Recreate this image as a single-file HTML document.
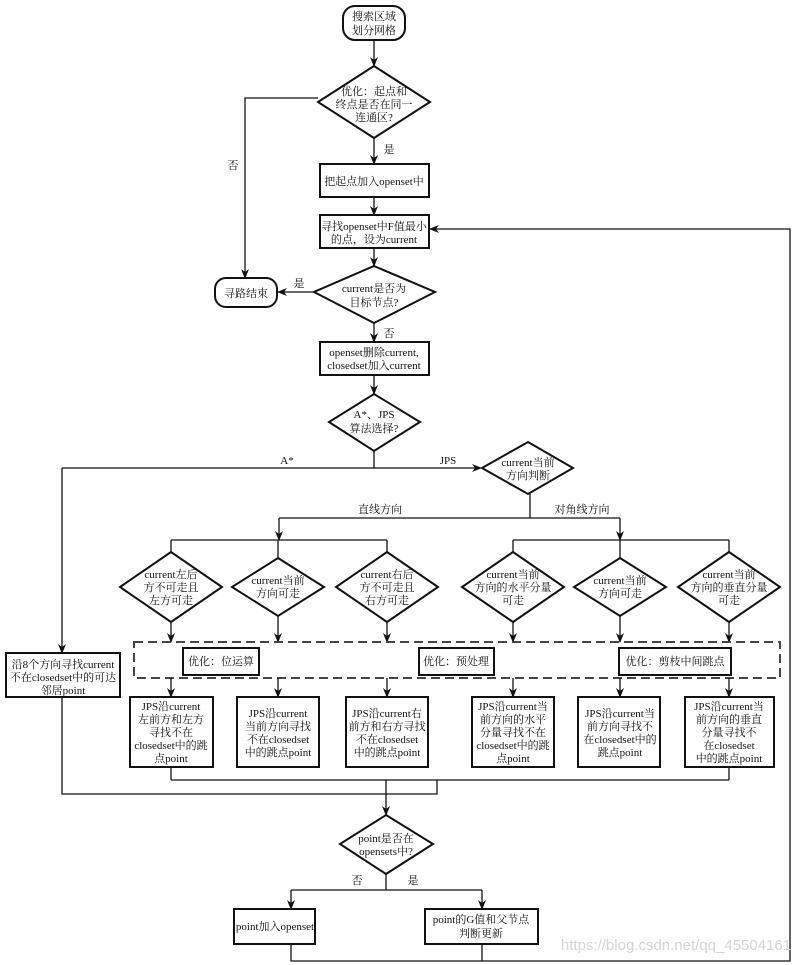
<!DOCTYPE html>
<html><head><meta charset="utf-8"><style>
html,body{margin:0;padding:0;background:#fff;}
svg{display:block;}
text{font-family:"Liberation Serif","Noto Serif CJK SC","Noto Sans CJK SC",serif;font-size:11px;fill:#111;text-anchor:middle;}
</style></head><body>
<svg width="800" height="965" viewBox="0 0 800 965" xmlns="http://www.w3.org/2000/svg">
<defs><marker id="a" markerWidth="10" markerHeight="8" refX="9" refY="4" orient="auto" markerUnits="userSpaceOnUse"><path d="M0,0 L10,4 L0,8 L3,4 z" fill="#111"/></marker></defs>
<g fill="none" stroke="#111" stroke-width="1.3">
<!-- start -->
<rect x="343" y="6" width="62" height="34" rx="12" stroke-width="2"/>
<line x1="374" y1="40" x2="374" y2="66" marker-end="url(#a)"/>
<polygon points="374,66 430,102 374,138 318,102" stroke-width="2"/>
<line x1="374" y1="138" x2="374" y2="164" marker-end="url(#a)"/>
<rect x="320" y="164" width="109" height="33" stroke-width="2"/>
<line x1="374" y1="197" x2="374" y2="215" marker-end="url(#a)"/>
<rect x="320" y="215" width="109" height="33" stroke-width="2"/>
<line x1="374" y1="248" x2="374" y2="266" marker-end="url(#a)"/>
<polygon points="374,266 435,292 374,323 314,292" stroke-width="2"/>
<rect x="215" y="278" width="62" height="29" rx="11" stroke-width="2"/>
<line x1="314" y1="292" x2="278" y2="292" marker-end="url(#a)"/>
<polyline points="318,98 245,98 245,278" marker-end="url(#a)"/>
<line x1="374" y1="323" x2="374" y2="342" marker-end="url(#a)"/>
<rect x="320" y="342" width="109" height="33" stroke-width="2"/>
<line x1="374" y1="375" x2="374" y2="394" marker-end="url(#a)"/>
<polygon points="374,394 420,422 374,451 329,422" stroke-width="2"/>
<line x1="374" y1="451" x2="374" y2="468"/>
<line x1="62" y1="468" x2="481" y2="468" marker-end="url(#a)"/>
<polygon points="528,442 573,468 528,494 482,468" stroke-width="2"/>
<line x1="62" y1="468" x2="62" y2="653" marker-end="url(#a)"/>
<!-- branches -->
<line x1="530" y1="494" x2="530" y2="518"/>
<line x1="279" y1="518" x2="620" y2="518"/>
<line x1="279" y1="518" x2="279" y2="540" marker-end="url(#a)"/>
<line x1="620" y1="518" x2="620" y2="540" marker-end="url(#a)"/>
<line x1="171" y1="540" x2="387" y2="540"/>
<line x1="513" y1="540" x2="729" y2="540"/>
<g stroke-width="2">
<polygon points="171,552 222,587 171,622 120,587"/>
<polygon points="278,558 324,587 278,616 232,587"/>
<polygon points="387,552 438,587 387,622 336,587"/>
<polygon points="513,552 564,587 513,622 462,587"/>
<polygon points="620,558 666,587 620,616 574,587"/>
<polygon points="729,552 780,587 729,622 678,587"/>
</g>
<line x1="171" y1="540" x2="171" y2="552"/><line x1="278" y1="540" x2="278" y2="558"/><line x1="387" y1="540" x2="387" y2="552"/>
<line x1="513" y1="540" x2="513" y2="552"/><line x1="620" y1="540" x2="620" y2="558"/><line x1="729" y1="540" x2="729" y2="552"/>
<line x1="171" y1="622" x2="171" y2="642" marker-end="url(#a)"/>
<line x1="278" y1="616" x2="278" y2="642" marker-end="url(#a)"/>
<line x1="387" y1="622" x2="387" y2="642" marker-end="url(#a)"/>
<line x1="513" y1="622" x2="513" y2="642" marker-end="url(#a)"/>
<line x1="620" y1="616" x2="620" y2="642" marker-end="url(#a)"/>
<line x1="729" y1="622" x2="729" y2="642" marker-end="url(#a)"/>
<rect x="134" y="642" width="646" height="36" stroke-dasharray="9,5" stroke="#444" stroke-width="2"/>
<rect x="183" y="648" width="76" height="27" stroke-width="2"/>
<rect x="419" y="648" width="75" height="27" stroke-width="2"/>
<rect x="619" y="648" width="112" height="27" stroke-width="2"/>
<line x1="171" y1="678" x2="171" y2="697" marker-end="url(#a)"/>
<line x1="278" y1="678" x2="278" y2="697" marker-end="url(#a)"/>
<line x1="387" y1="678" x2="387" y2="697" marker-end="url(#a)"/>
<line x1="513" y1="678" x2="513" y2="697" marker-end="url(#a)"/>
<line x1="620" y1="678" x2="620" y2="697" marker-end="url(#a)"/>
<line x1="729" y1="678" x2="729" y2="697" marker-end="url(#a)"/>
<g stroke-width="2">
<rect x="130" y="697" width="83" height="70"/>
<rect x="237" y="697" width="82" height="70"/>
<rect x="346" y="697" width="82" height="70"/>
<rect x="472" y="697" width="82" height="70"/>
<rect x="578" y="697" width="82" height="70"/>
<rect x="685" y="697" width="89" height="70"/>
<rect x="6" y="653" width="114" height="44"/>
</g>
<line x1="171" y1="767" x2="171" y2="780"/><line x1="729" y1="767" x2="729" y2="780"/>
<line x1="171" y1="780" x2="729" y2="780"/>
<polyline points="62,697 62,794 437,794 437,780"/>
<line x1="386" y1="780" x2="386" y2="815" marker-end="url(#a)"/>
<polygon points="386,815 433,844 386,874 340,844" stroke-width="2"/>
<line x1="386" y1="874" x2="386" y2="890"/>
<line x1="291" y1="890" x2="482" y2="890"/>
<line x1="291" y1="890" x2="291" y2="909" marker-end="url(#a)"/>
<line x1="482" y1="890" x2="482" y2="909" marker-end="url(#a)"/>
<rect x="234" y="909" width="81" height="35" stroke-width="2"/>
<rect x="425" y="909" width="113" height="35" stroke-width="2"/>
<polyline points="291,944 291,961 790,961 790,229 430,229" marker-end="url(#a)"/>
<line x1="482" y1="944" x2="482" y2="961"/>
</g>
<text x="374" y="20">搜索区域</text><text x="374" y="34">划分网格</text>
<text x="374" y="95">优化：起点和</text><text x="374" y="108">终点是否在同一</text><text x="374" y="121">连通区?</text>
<text x="389" y="153">是</text><text x="233" y="169">否</text>
<text x="374" y="185">把起点加入openset中</text>
<text x="374" y="230">寻找openset中F值最小</text><text x="374" y="243">的点，设为current</text>
<text x="374" y="292">current是否为</text><text x="374" y="306">目标节点?</text>
<text x="299" y="287">是</text><text x="246" y="297">寻路结束</text>
<text x="389" y="337">否</text>
<text x="374" y="356">openset删除current,</text><text x="374" y="369">closedset加入current</text>
<text x="374" y="418">A*、JPS</text><text x="374" y="432">算法选择?</text>
<text x="287" y="464">A*</text><text x="448" y="464">JPS</text>
<text x="528" y="466">current当前</text><text x="528" y="479">方向判断</text>
<text x="380" y="513">直线方向</text><text x="582" y="513">对角线方向</text>
<text x="171" y="578">current左后</text><text x="171" y="591">方不可走且</text><text x="171" y="604">左方可走</text>
<text x="278" y="584">current当前</text><text x="278" y="597">方向可走</text>
<text x="387" y="578">current右后</text><text x="387" y="591">方不可走且</text><text x="387" y="604">右方可走</text>
<text x="513" y="578">current当前</text><text x="513" y="591">方向的水平分量</text><text x="513" y="604">可走</text>
<text x="620" y="584">current当前</text><text x="620" y="597">方向可走</text>
<text x="729" y="578">current当前</text><text x="729" y="591">方向的垂直分量</text><text x="729" y="604">可走</text>
<text x="221" y="665">优化：位运算</text><text x="456" y="665">优化：预处理</text><text x="675" y="665">优化：剪枝中间跳点</text>
<text x="63" y="668">沿8个方向寻找current</text><text x="63" y="681">不在closedset中的可达</text><text x="63" y="694">邻居point</text>
<text x="171" y="710">JPS沿current</text><text x="171" y="723">左前方和左方</text><text x="171" y="736">寻找不在</text><text x="171" y="749">closedset中的跳</text><text x="171" y="762">点point</text>
<text x="278" y="717">JPS沿current</text><text x="278" y="730">当前方向寻找</text><text x="278" y="743">不在closedset</text><text x="278" y="756">中的跳点point</text>
<text x="387" y="717">JPS沿current右</text><text x="387" y="730">前方和右方寻找</text><text x="387" y="743">不在closedset</text><text x="387" y="756">中的跳点point</text>
<text x="513" y="710">JPS沿current当</text><text x="513" y="723">前方向的水平</text><text x="513" y="736">分量寻找不在</text><text x="513" y="749">closedset中的跳</text><text x="513" y="762">点point</text>
<text x="620" y="717">JPS沿current当</text><text x="620" y="730">前方向寻找不</text><text x="620" y="743">在closedset中的</text><text x="620" y="756">跳点point</text>
<text x="729" y="710">JPS沿current当</text><text x="729" y="723">前方向的垂直</text><text x="729" y="736">分量寻找不</text><text x="729" y="749">在closedset</text><text x="729" y="762">中的跳点point</text>
<text x="386" y="842">point是否在</text><text x="386" y="855">opensets中?</text>
<text x="357" y="884">否</text><text x="413" y="884">是</text>
<text x="275" y="930">point加入openset</text>
<text x="481" y="923">point的G值和父节点</text><text x="481" y="937">判断更新</text>
<text x="676" y="950" style="font-family:'Liberation Sans',sans-serif;font-size:15px;fill:#d4d4d4">https://blog.csdn.net/qq_45504161</text>
</svg>
</body></html>
